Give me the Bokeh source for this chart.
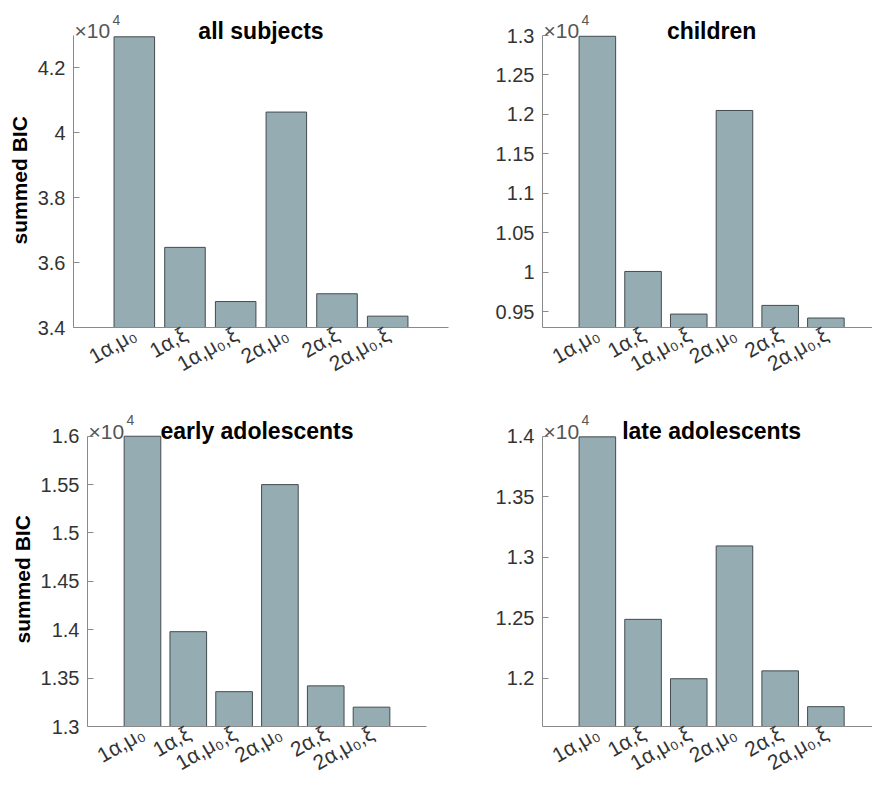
import math
from bokeh.plotting import figure
from bokeh.models import FixedTicker, Label, Range1d, ColumnDataSource, CustomJSTickFormatter, Title
from bokeh.layouts import column, row
from bokeh.embed import file_html
from bokeh.resources import INLINE

# ---------------- data (summed BIC, in units of 10^4) ----------------
model_labels = ["1α,μ₀", "1α,ξ", "1α,μ₀,ξ", "2α,μ₀", "2α,ξ", "2α,μ₀,ξ"]
model_pos = [1, 2, 3, 4, 5, 6]

all_subjects = [4.296, 3.647, 3.480, 4.064, 3.504, 3.435]
children = [1.299, 1.001, 0.947, 1.205, 0.958, 0.942]
early_adolescents = [1.600, 1.398, 1.336, 1.550, 1.342, 1.320]
late_adolescents = [1.3995, 1.2486, 1.1995, 1.3093, 1.206, 1.1764]

ylim_all = (3.4, 4.3)
ylim_children = (0.93, 1.3)
ylim_early = (1.3, 1.6)
ylim_late = (1.16, 1.4)

ticks_all = [3.4, 3.6, 3.8, 4.0, 4.2]
ticks_children = [0.95, 1.0, 1.05, 1.1, 1.15, 1.2, 1.25, 1.3]
ticks_early = [1.3, 1.35, 1.4, 1.45, 1.5, 1.55, 1.6]
ticks_late = [1.2, 1.25, 1.3, 1.35, 1.4]

BAR = "#95acb3"
EDGE = "#434c4f"
AXIS = "#8a8a8a"
TXT = "#333333"
FONT = "Liberation Sans"

X_START = -0.2
X_CENTER = 3.5


def panel(title, values, yr, yticks, width, height, bl, br, bb, x_end,
          data_top, ylabel=None):
    border_top = 4
    y0, y1 = yr
    data_px = height - bb - data_top
    ext_px = data_top - border_top
    y_end = y1 + ext_px * (y1 - y0) / data_px
    p = figure(width=width, height=height,
               x_range=Range1d(X_START, x_end), y_range=Range1d(y0, y_end),
               output_backend="svg", toolbar_location=None,
               min_border_left=bl, min_border_right=br,
               min_border_top=border_top, min_border_bottom=bb)
    src = ColumnDataSource(dict(x=model_pos, top=values, label=model_labels))
    p.vbar(x="x", top="top", bottom=0, width=0.8, source=src,
           fill_color=BAR, line_color=EDGE, line_width=1)

    p.outline_line_color = None
    p.grid.visible = False
    p.background_fill_color = "white"
    p.border_fill_color = "white"

    ya = p.yaxis[0]
    ya.bounds = (y0, y1)
    ya.ticker = FixedTicker(ticks=yticks)
    ya.formatter = CustomJSTickFormatter(code="return String(parseFloat(tick.toFixed(4)));")
    ya.major_tick_in = 6
    ya.major_tick_out = 0
    ya.minor_tick_line_color = None
    ya.axis_line_color = AXIS
    ya.major_tick_line_color = AXIS
    ya.major_label_text_font = FONT
    ya.major_label_text_font_size = "20px"
    ya.major_label_text_color = TXT
    ya.major_label_standoff = 8
    if ylabel:
        # y-axis label, centred on the data part of the axis
        p.add_layout(Title(text=ylabel, align="left", offset=data_px / 2 - 63,
                           text_font=FONT, text_font_size="21px",
                           text_font_style="bold", text_color="#000000",
                           standoff=8), "left")

    xa = p.xaxis[0]
    xa.ticker = FixedTicker(ticks=model_pos)
    xa.major_label_overrides = {i: s for i, s in zip(model_pos, model_labels)}
    xa.major_label_orientation = math.radians(30)
    xa.major_tick_in = 0
    xa.major_tick_out = 0
    xa.minor_tick_line_color = None
    xa.axis_line_color = AXIS
    xa.major_label_text_font = FONT
    xa.major_label_text_font_size = "21px"
    xa.major_label_text_color = TXT
    xa.major_label_standoff = 5

    # panel title
    p.add_layout(Label(x=X_CENTER, y=y1, y_offset=5, text=title,
                       text_font=FONT, text_font_size="23px", text_font_style="bold",
                       text_color="#000000", text_baseline="alphabetic",
                       text_align="center"))
    # exponent marker "×10^4"
    p.add_layout(Label(x=X_START, y=y1, x_offset=1, y_offset=5, text="×10",
                       text_font=FONT, text_font_size="21px", text_color="#555555",
                       text_baseline="alphabetic", text_align="left"))
    p.add_layout(Label(x=X_START, y=y1, x_offset=39, y_offset=16, text="4",
                       text_font=FONT, text_font_size="14px", text_color="#555555",
                       text_baseline="alphabetic", text_align="left"))
    return p


p1 = panel("all subjects", all_subjects, ylim_all, ticks_all,
           470, 390, 73, 22, 63, 7.2, 35, ylabel="summed BIC")
p2 = panel("children", children, ylim_children, ticks_children,
           402, 390, 72, 0, 63, 7.02, 35)
p3 = panel("early adolescents", early_adolescents, ylim_early, ticks_early,
           470, 397, 87, 44, 59, 7.2, 46, ylabel="summed BIC")
p4 = panel("late adolescents", late_adolescents, ylim_late, ticks_late,
           402, 397, 72, 0, 59, 7.02, 46)

layout = column(row(p1, p2), row(p3, p4))

open("out.html", "w").write(file_html(layout, INLINE))
